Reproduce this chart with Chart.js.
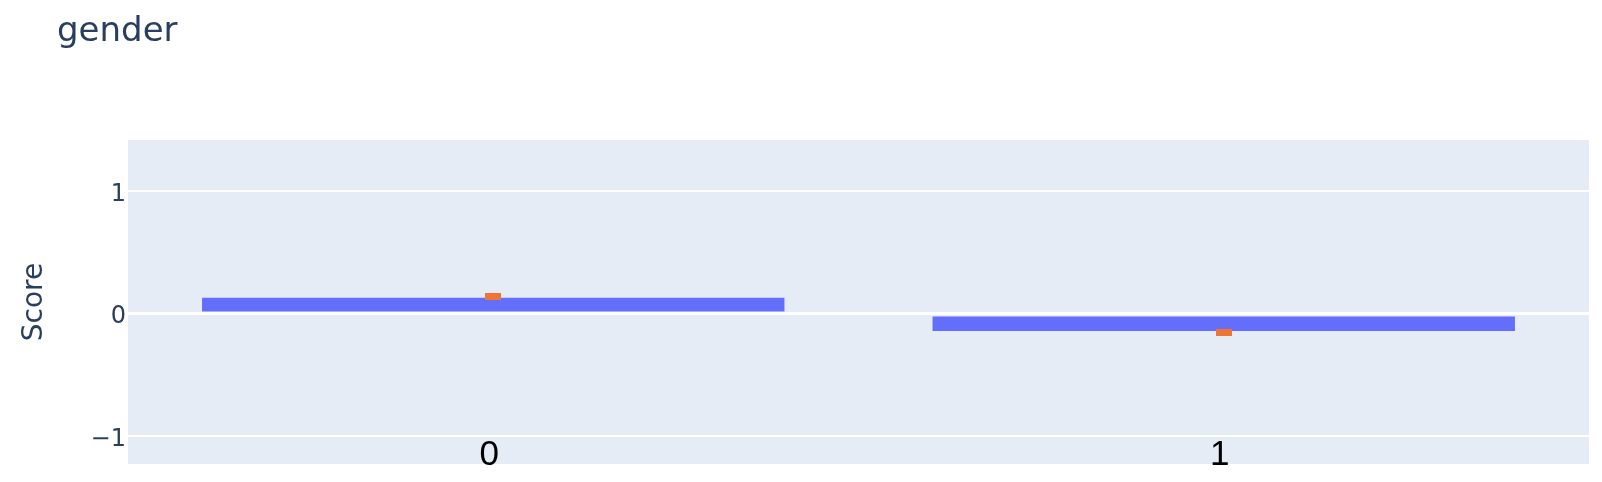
<!DOCTYPE html>
<html>
<head>
<meta charset="utf-8">
<script src="https://cdn.jsdelivr.net/npm/chart.js@4.4.1/dist/chart.umd.min.js"></script>
<style>
    html, body { margin: 0; padding: 0; background: #ffffff; }
    #wrap { width: 1602px; height: 482px; position: relative; }
</style>
</head>
<body>
<div id="wrap"><canvas id="scoreChart"></canvas></div>
<script>

/* =========================
   DATA
========================= */

const categories = ["0", "1"];

const scoreValues = [0.139, -0.147];

const markerValues = [0.141, -0.149];

const yTickValues = [-1, 0, 1];

const yRange = [-1.225, 1.419];

const chartTitle = "gender";

const yAxisTitle = "Score";

/* =========================
   STYLE
========================= */

const plotBackground = "#E5ECF6";
const textColor = "#2a3f5f";
const barColor = "#636efa";
const markerColor = "#ef7535";
const uiFont = "'DejaVu Sans', Verdana, sans-serif";

// small flat rectangle used as the orange marker
const markerCanvas = document.createElement("canvas");
markerCanvas.width = 16;
markerCanvas.height = 7;
const markerCtx = markerCanvas.getContext("2d");
markerCtx.fillStyle = markerColor;
markerCtx.fillRect(0, 0, 16, 7);

/* =========================
   PLUGINS
========================= */

const plotArea = {

    id: "plotArea",

    beforeDraw(chart) {

        const { ctx, chartArea } = chart;

        ctx.save();
        ctx.fillStyle = plotBackground;
        ctx.fillRect(
            chartArea.left,
            chartArea.top,
            chartArea.right - chartArea.left,
            chartArea.bottom - chartArea.top
        );
        ctx.restore();

    }

};

const textLayer = {

    id: "textLayer",

    afterDraw(chart) {

        const { ctx, chartArea } = chart;
        const xScale = chart.scales.x;

        ctx.save();

        // title
        ctx.fillStyle = textColor;
        ctx.font = "34px " + uiFont;
        ctx.textAlign = "left";
        ctx.textBaseline = "alphabetic";
        ctx.fillText(chartTitle, 57, 41);

        // category labels, drawn over the bottom of the plot
        ctx.fillStyle = "#000000";
        ctx.font = "35px 'Liberation Sans'";
        ctx.textAlign = "center";

        categories.forEach((label, i) => {

            ctx.fillText(
                label,
                xScale.getPixelForValue(i) - 4,
                chartArea.bottom + 1
            );

        });

        ctx.restore();

    }

};

/* =========================
   CHART
========================= */

const ctx = document.getElementById("scoreChart");

new Chart(ctx, {

    type: "bar",

    data: {

        labels: categories,

        datasets: [

            {
                type: "line",
                label: "marker",
                data: markerValues,
                showLine: false,
                pointStyle: markerCanvas,
                pointRadius: 8,
                order: 0
            },

            {
                label: "Score",
                data: scoreValues,
                backgroundColor: barColor,
                borderColor: "rgba(229,236,246,0.55)",
                borderWidth: 1,
                borderSkipped: false,
                categoryPercentage: 0.8,
                barPercentage: 1,
                order: 1
            }

        ]

    },

    options: {

        responsive: true,
        maintainAspectRatio: false,
        animation: false,

        layout: {
            padding: { top: 140, right: 13, bottom: 18, left: 0 }
        },

        plugins: {
            legend: { display: false },
            tooltip: { enabled: false }
        },

        scales: {

            x: {
                display: false
            },

            y: {

                min: yRange[0],
                max: yRange[1],

                afterBuildTicks(scale) {
                    scale.ticks = yTickValues.map(v => ({ value: v }));
                },

                afterFit(scale) {
                    scale.width = 128;
                },

                border: { display: false },

                grid: {
                    color: "#ffffff",
                    lineWidth: c => (c.tick && c.tick.value === 0 ? 3 : 2),
                    drawTicks: false
                },

                ticks: {
                    color: textColor,
                    padding: 2,
                    labelOffset: 3,
                    font: { family: uiFont, size: 24 },
                    callback: v => (v < 0 ? "\u2212" + Math.abs(v) : String(v))
                },

                title: {
                    display: true,
                    text: yAxisTitle,
                    color: textColor,
                    font: { family: uiFont, size: 28 },
                    padding: { top: 18, bottom: 0 }
                }

            }

        }

    },

    plugins: [plotArea, textLayer]

});

</script>
</body>
</html>
